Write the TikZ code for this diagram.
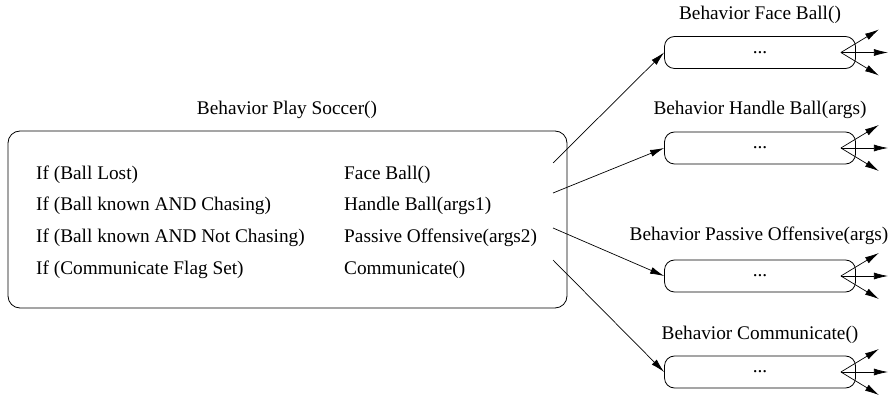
\documentclass[tikz,border=0pt]{standalone}
\usepackage{fontspec}
\setmainfont{Liberation Serif}
\usetikzlibrary{arrows.meta}

\begin{document}
\begin{tikzpicture}[x=1pt,y=-1pt,font=\fontsize{19.3}{22}\selectfont,
  behbox/.style={draw,line width=0.8pt,rounded corners=10pt,minimum width=191pt,minimum height=32pt},
  cond/.style={anchor=west,inner sep=0pt},
  call/.style={-{Latex[length=14pt,width=7pt]},line width=0.7pt}]
\useasboundingbox (0,0) rectangle (892,395);
% main behaviour
\node [draw,line width=0.8pt,rounded corners=12pt,minimum width=559pt,minimum height=177pt] (play) at (287.5,219.5) {};
\node (playlabel) at (287,110) {Behavior Play Soccer()};
\node [cond] (if1) at (36,175) {If (Ball Lost)};
\node [cond] (if2) at (36,206) {If (Ball known AND Chasing)};
\node [cond] (if3) at (36,238) {If (Ball known AND Not Chasing)};
\node [cond] (if4) at (36,270) {If (Communicate Flag Set)};
\node [cond] (do1) at (344,175) {Face Ball()};
\node [cond] (do2) at (344,206) {Handle Ball(args1)};
\node [cond] (do3) at (344,238) {Passive Offensive(args2)};
\node [cond] (do4) at (344,270) {Communicate()};
% sub behaviours
\node [behbox] (face) at (760,52.5) {...};
\node [behbox] (handle) at (760,148) {...};
\node [behbox] (passive) at (760,276) {...};
\node [behbox] (comm) at (760,372) {...};
\node (facelabel) at (760,15) {Behavior Face Ball()};
\node (handlelabel) at (760,110) {Behavior Handle Ball(args)};
\node (passivelabel) at (759,236) {Behavior Passive Offensive(args)};
\node (commlabel) at (760,335) {Behavior Communicate()};
% calls
\coordinate (out1) at (553,163);
\coordinate (out2) at (553,193);
\coordinate (out3) at (553,228);
\coordinate (out4) at (553,260);
\draw [call] (out1) -- (face.west);
\draw [call] (out2) -- (handle.west);
\draw [call] (out3) -- (passive.west);
\draw [call] (out4) -- (comm.west);
\foreach \b in {face,handle,passive,comm} {
  \coordinate (\b fan) at ([xshift=-15pt]\b.east);
  \foreach \dx/\dy in {38/-23,47/0,38/23}
    \draw [call] (\b fan) -- ++(\dx,\dy);
}
\end{tikzpicture}
\end{document}
